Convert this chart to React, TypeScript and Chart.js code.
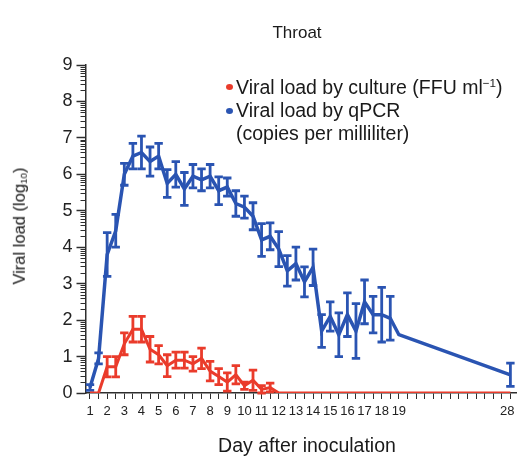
import React, { useEffect, useRef } from 'react';
import { Chart, registerables } from 'chart.js';

Chart.register(...registerables);

// Sample slots (two samples per day up to day 19, then day 28)
const slotLabels: string[] = [
  '1', '', '2', '', '3', '', '4', '', '5', '', '6', '', '7', '', '8', '', '9', '',
  '10', '', '11', '', '12', '', '13', '', '14', '', '15', '', '16', '', '17', '', '18', '', '19',
  '', '', '', '', '', '', '', '', '', '', '', '',
  '28',
];

const N = null;

// Viral load by qPCR (log10 copies per milliliter)
const qpcrMean: (number | null)[] = [
  0.15, 0.95, 3.8, 4.45, 6.0, 6.5, 6.6, 6.35, 6.5, 5.75, 6.0, 5.6, 5.95, 5.85, 5.95, 5.55, 5.65, 5.2, 5.1,
  4.85, 4.2, 4.3, 3.95, 3.35, 3.55, 3.05, 3.45, 1.7, 2.1, 1.6, 2.15, 1.7, 2.5, 2.15, 2.15, 2.05, 1.6,
  N, N, N, N, N, N, N, N, N, N, N, N,
  0.5,
];
const qpcrErr: (number | null)[] = [
  0.08, 0.15, 0.6, 0.45, 0.3, 0.35, 0.45, 0.4, 0.35, 0.38, 0.35, 0.45, 0.32, 0.3, 0.32, 0.38, 0.25, 0.35, 0.3,
  0.37, 0.45, 0.37, 0.48, 0.42, 0.45, 0.41, 0.5, 0.45, 0.4, 0.6, 0.6, 0.75, 0.6, 0.5, 0.75, 0.6, 0,
  N, N, N, N, N, N, N, N, N, N, N, N,
  0.32,
];

// Viral load by culture (log10 FFU/ml)
const cultureMean: (number | null)[] = [
  0, 0, 0.72, 0.72, 1.35, 1.75, 1.75, 1.2, 1.05, 0.75, 0.9, 0.9, 0.8, 0.95, 0.6, 0.45, 0.3, 0.5, 0.2,
  0.35, 0.1, 0.15, 0, 0, 0, 0, 0, 0, 0, 0, 0, 0, 0, 0, 0, 0, 0,
  N, N, N, N, N, N, N, N, N, N, N, N,
  0,
];
const cultureErr: (number | null)[] = [
  0, 0, 0.28, 0.28, 0.3, 0.35, 0.35, 0.35, 0.25, 0.3, 0.22, 0.22, 0.2, 0.28, 0.27, 0.22, 0.25, 0.25, 0.1,
  0.28, 0.1, 0.12, 0, 0, 0, 0, 0, 0, 0, 0, 0, 0, 0, 0, 0, 0, 0,
  N, N, N, N, N, N, N, N, N, N, N, N,
  0,
];

const yTicks = [0, 1, 2, 3, 4, 5, 6, 7, 8, 9];

const BLUE = '#2a54b2';
const RED = '#ea3b2b';
const AXIS = '#2e2e2e';
const FONT = '"Liberation Sans", Arial, Helvetica, sans-serif';

function toPoints(mean: (number | null)[], err: (number | null)[]) {
  const pts: { x: number; y: number; e: number }[] = [];
  mean.forEach((v, i) => {
    if (v !== null) pts.push({ x: i, y: v, e: (err[i] as number) || 0 });
  });
  return pts;
}

const errorBarPlugin = {
  id: 'errorBars',
  afterDatasetDraw(chart: any, args: any) {
    const ds = chart.data.datasets[args.index];
    const meta = args.meta;
    const yScale = chart.scales.y;
    const ctx = chart.ctx;
    ctx.save();
    ctx.strokeStyle = ds.borderColor;
    ctx.lineWidth = 2.8;
    ctx.lineCap = 'butt';
    meta.data.forEach((pt: any, i: number) => {
      const raw = ds.data[i];
      if (!raw || !raw.e) return;
      const x = pt.x;
      const yT = yScale.getPixelForValue(raw.y + raw.e);
      const yB = yScale.getPixelForValue(Math.max(0, raw.y - raw.e));
      const cw = 4.2;
      ctx.beginPath();
      ctx.moveTo(x, yT);
      ctx.lineTo(x, yB);
      ctx.moveTo(x - cw, yT);
      ctx.lineTo(x + cw, yT);
      ctx.moveTo(x - cw, yB);
      ctx.lineTo(x + cw, yB);
      ctx.stroke();
    });
    ctx.restore();
  },
};

const minorTickPlugin = {
  id: 'minorTicks',
  afterDraw(chart: any) {
    const y = chart.scales.y;
    const x0 = chart.chartArea.left;
    const ctx = chart.ctx;
    ctx.save();
    ctx.strokeStyle = AXIS;
    ctx.lineWidth = 1;
    for (let n = 0; n < 9; n++) {
      for (let k = 2; k <= 9; k++) {
        const py = Math.round(y.getPixelForValue(n + Math.log10(k))) + 0.5;
        ctx.beginPath();
        ctx.moveTo(x0 - 5, py);
        ctx.lineTo(x0, py);
        ctx.stroke();
      }
    }
    ctx.restore();
  },
};

export default function App() {
  const ref = useRef<HTMLCanvasElement | null>(null);

  useEffect(() => {
    if (!ref.current) return;
    const chart = new Chart(ref.current, {
      type: 'line',
      data: {
        datasets: [
          {
            label: 'Viral load by culture (FFU ml-1)',
            data: toPoints(cultureMean, cultureErr) as any,
            borderColor: RED,
            backgroundColor: RED,
            borderWidth: 3,
            pointRadius: 0,
            tension: 0,
          },
          {
            label: 'Viral load by qPCR (copies per milliliter)',
            data: toPoints(qpcrMean, qpcrErr) as any,
            borderColor: BLUE,
            backgroundColor: BLUE,
            borderWidth: 3.5,
            pointRadius: 0,
            tension: 0,
          },
        ],
      },
      options: {
        animation: false,
        responsive: false,
        devicePixelRatio: 1,
        layout: { padding: { top: 65, left: 0, right: 0, bottom: 0 } },
        plugins: {
          legend: { display: false },
          tooltip: { enabled: false },
          title: { display: false },
        },
        scales: {
          x: {
            type: 'linear',
            min: -0.524,
            max: 49.77,
            afterBuildTicks: (scale: any) => {
              scale.ticks = slotLabels.map((_, i) => ({ value: i }));
            },
            afterFit: (scale: any) => {
              scale.height = 65;
              scale.paddingLeft = 0;
              scale.paddingRight = 0;
            },
            border: { display: true, color: AXIS, width: 1.5 },
            grid: {
              drawOnChartArea: false,
              drawTicks: true,
              tickLength: 6,
              tickColor: AXIS,
              tickWidth: 1,
            },
            ticks: {
              autoSkip: false,
              maxRotation: 0,
              minRotation: 0,
              padding: 5,
              color: '#222',
              font: { family: FONT, size: 13 },
              callback: (v: any) => {
                const l = slotLabels[Math.round(Number(v))] ?? '';
                return l === '28' ? '28\u2002' : l;
              },
            },
          },
          y: {
            type: 'linear',
            min: 0,
            max: 9,
            afterBuildTicks: (scale: any) => {
              scale.ticks = yTicks.map((v) => ({ value: v }));
            },
            afterFit: (scale: any) => {
              scale.width = 85.5;
            },
            border: { display: true, color: AXIS, width: 1.5 },
            grid: {
              drawOnChartArea: false,
              drawTicks: true,
              tickLength: 9,
              tickColor: AXIS,
              tickWidth: 1.5,
            },
            ticks: {
              padding: 4,
              color: '#222',
              font: { family: FONT, size: 18 },
            },
          },
        },
      },
      plugins: [errorBarPlugin, minorTickPlugin],
    });
    return () => chart.destroy();
  }, []);

  const txt: React.CSSProperties = {
    position: 'absolute',
    fontFamily: FONT,
    color: '#1a1a1a',
    whiteSpace: 'nowrap',
    lineHeight: 1,
  };

  return (
    <div style={{ position: 'fixed', left: 0, top: 0, width: 517, height: 458, background: '#fff', overflow: 'hidden' }}>
      <canvas ref={ref} width={517} height={458} style={{ position: 'absolute', left: 0, top: 0, width: 517, height: 458 }} />
      <div style={{ ...txt, left: 297, top: 32, fontSize: 17, transform: 'translate(-50%, -50%)' }}>Throat</div>
      <div style={{ ...txt, left: 307, top: 446, fontSize: 19.5, transform: 'translate(-50%, -50%)' }}>Day after inoculation</div>
      <div style={{ ...txt, left: 20, top: 226, fontSize: 16.5, color: '#111', transform: 'translate(-50%, -50%) rotate(-90deg)' }}>
        Viral load (log<sub style={{ fontSize: '0.6em', verticalAlign: '-0.25em' }}>10</sub>)
      </div>
      <div style={{ position: 'absolute', left: 225.5, top: 84, width: 7, height: 6, borderRadius: '50%', background: RED }} />
      <div style={{ ...txt, left: 236, top: 87, fontSize: 19.5, transform: 'translateY(-50%)' }}>
        Viral load by culture (FFU ml<sup style={{ fontSize: '0.6em', verticalAlign: '0.6em' }}>−1</sup>)
      </div>
      <div style={{ position: 'absolute', left: 225.5, top: 108, width: 7, height: 6, borderRadius: '50%', background: BLUE }} />
      <div style={{ ...txt, left: 236, top: 111, fontSize: 19.5, transform: 'translateY(-50%)' }}>Viral load by qPCR</div>
      <div style={{ ...txt, left: 236, top: 134, fontSize: 19.5, transform: 'translateY(-50%)' }}>(copies per milliliter)</div>
    </div>
  );
}
